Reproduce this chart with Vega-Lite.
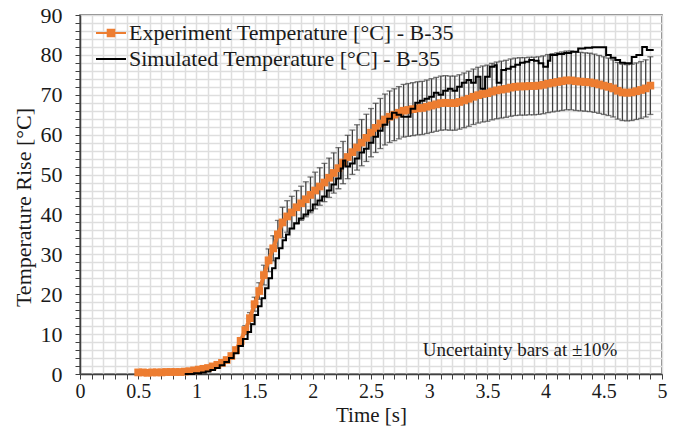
{
  "$schema": "https://vega.github.io/schema/vega-lite/v6.json",
  "width": 582,
  "height": 359,
  "autosize": {"type": "none"},
  "padding": {"left": 80, "top": 15, "right": 16, "bottom": 62},
  "background": "white",
  "config": {
    "view": {"stroke": "#595959", "strokeWidth": 1.5},
    "font": "Liberation Serif"
  },
  "datasets": {
    "exp": [
      {"t":0.50,"T":0.4,"lo":0.36,"hi":0.44},{"t":0.54,"T":0.4,"lo":0.36,"hi":0.44},{"t":0.58,"T":0.3,"lo":0.27,"hi":0.33},{"t":0.62,"T":0.4,"lo":0.36,"hi":0.44},
      {"t":0.66,"T":0.4,"lo":0.36,"hi":0.44},{"t":0.70,"T":0.4,"lo":0.36,"hi":0.44},{"t":0.74,"T":0.5,"lo":0.45,"hi":0.55},{"t":0.78,"T":0.5,"lo":0.45,"hi":0.55},
      {"t":0.82,"T":0.5,"lo":0.45,"hi":0.55},{"t":0.86,"T":0.5,"lo":0.45,"hi":0.55},{"t":0.90,"T":0.6,"lo":0.54,"hi":0.66},{"t":0.94,"T":0.7,"lo":0.63,"hi":0.77},
      {"t":0.98,"T":0.9,"lo":0.81,"hi":0.99},{"t":1.02,"T":1.1,"lo":0.99,"hi":1.21},{"t":1.06,"T":1.3,"lo":1.17,"hi":1.43},{"t":1.10,"T":1.5,"lo":1.35,"hi":1.65},
      {"t":1.14,"T":1.9,"lo":1.71,"hi":2.09},{"t":1.18,"T":2.3,"lo":2.07,"hi":2.53},{"t":1.22,"T":2.8,"lo":2.52,"hi":3.08},{"t":1.26,"T":3.5,"lo":3.15,"hi":3.85},
      {"t":1.30,"T":4.5,"lo":4.05,"hi":4.95},{"t":1.34,"T":6.0,"lo":5.4,"hi":6.6},{"t":1.38,"T":8.3,"lo":7.47,"hi":9.13},{"t":1.42,"T":11.0,"lo":9.9,"hi":12.1},
      {"t":1.46,"T":14.0,"lo":12.6,"hi":15.4},{"t":1.50,"T":17.5,"lo":15.75,"hi":19.25},{"t":1.54,"T":20.8,"lo":18.72,"hi":22.88},{"t":1.58,"T":24.8,"lo":22.32,"hi":27.28},
      {"t":1.62,"T":28.5,"lo":25.65,"hi":31.35},{"t":1.66,"T":31.5,"lo":28.35,"hi":34.65},{"t":1.70,"T":35.0,"lo":31.5,"hi":38.5},{"t":1.74,"T":38.0,"lo":34.2,"hi":41.8},
      {"t":1.78,"T":39.5,"lo":35.55,"hi":43.45},{"t":1.82,"T":40.5,"lo":36.45,"hi":44.55},{"t":1.86,"T":41.8,"lo":37.62,"hi":45.98},{"t":1.90,"T":42.8,"lo":38.52,"hi":47.08},
      {"t":1.94,"T":43.8,"lo":39.42,"hi":48.18},{"t":1.98,"T":44.9,"lo":40.41,"hi":49.39},{"t":2.02,"T":46.0,"lo":41.4,"hi":50.6},{"t":2.06,"T":47.0,"lo":42.3,"hi":51.7},
      {"t":2.10,"T":48.0,"lo":43.2,"hi":52.8},{"t":2.14,"T":49.2,"lo":44.28,"hi":54.12},{"t":2.18,"T":50.4,"lo":45.36,"hi":55.44},{"t":2.22,"T":51.6,"lo":46.44,"hi":56.76},
      {"t":2.26,"T":53.0,"lo":47.7,"hi":58.3},{"t":2.30,"T":54.4,"lo":48.96,"hi":59.84},{"t":2.34,"T":55.6,"lo":50.04,"hi":61.16},{"t":2.38,"T":56.8,"lo":51.12,"hi":62.48},
      {"t":2.42,"T":58.0,"lo":52.2,"hi":63.8},{"t":2.46,"T":59.2,"lo":53.28,"hi":65.12},{"t":2.50,"T":60.5,"lo":54.45,"hi":66.55},{"t":2.54,"T":61.7,"lo":55.53,"hi":67.87},
      {"t":2.58,"T":62.8,"lo":56.52,"hi":69.08},{"t":2.62,"T":63.8,"lo":57.42,"hi":70.18},{"t":2.66,"T":64.5,"lo":58.05,"hi":70.95},{"t":2.70,"T":65.0,"lo":58.5,"hi":71.5},
      {"t":2.74,"T":65.5,"lo":58.95,"hi":72.05},{"t":2.78,"T":66.0,"lo":59.4,"hi":72.6},{"t":2.82,"T":66.2,"lo":59.58,"hi":72.82},{"t":2.86,"T":66.4,"lo":59.76,"hi":73.04},
      {"t":2.90,"T":66.6,"lo":59.94,"hi":73.26},{"t":2.94,"T":66.7,"lo":60.03,"hi":73.37},{"t":2.98,"T":67.0,"lo":60.3,"hi":73.7},{"t":3.02,"T":67.3,"lo":60.57,"hi":74.03},
      {"t":3.06,"T":67.6,"lo":60.84,"hi":74.36},{"t":3.10,"T":67.9,"lo":61.11,"hi":74.69},{"t":3.14,"T":68.0,"lo":61.2,"hi":74.8},{"t":3.18,"T":67.9,"lo":61.11,"hi":74.69},
      {"t":3.22,"T":67.9,"lo":61.11,"hi":74.69},{"t":3.26,"T":68.2,"lo":61.38,"hi":75.02},{"t":3.30,"T":68.6,"lo":61.74,"hi":75.46},{"t":3.34,"T":69.0,"lo":62.1,"hi":75.9},
      {"t":3.38,"T":69.5,"lo":62.55,"hi":76.45},{"t":3.42,"T":69.9,"lo":62.91,"hi":76.89},{"t":3.46,"T":70.2,"lo":63.18,"hi":77.22},{"t":3.50,"T":70.4,"lo":63.36,"hi":77.44},
      {"t":3.54,"T":70.8,"lo":63.72,"hi":77.88},{"t":3.58,"T":71.1,"lo":63.99,"hi":78.21},{"t":3.62,"T":71.3,"lo":64.17,"hi":78.43},{"t":3.66,"T":71.5,"lo":64.35,"hi":78.65},
      {"t":3.70,"T":71.8,"lo":64.62,"hi":78.98},{"t":3.74,"T":72.0,"lo":64.8,"hi":79.2},{"t":3.78,"T":72.1,"lo":64.89,"hi":79.31},{"t":3.82,"T":72.1,"lo":64.89,"hi":79.31},
      {"t":3.86,"T":72.2,"lo":64.98,"hi":79.42},{"t":3.90,"T":72.2,"lo":64.98,"hi":79.42},{"t":3.94,"T":72.3,"lo":65.07,"hi":79.53},{"t":3.98,"T":72.5,"lo":65.25,"hi":79.75},
      {"t":4.02,"T":72.8,"lo":65.52,"hi":80.08},{"t":4.06,"T":73.0,"lo":65.7,"hi":80.3},{"t":4.10,"T":73.2,"lo":65.88,"hi":80.52},{"t":4.14,"T":73.4,"lo":66.06,"hi":80.74},
      {"t":4.18,"T":73.6,"lo":66.24,"hi":80.96},{"t":4.22,"T":73.6,"lo":66.24,"hi":80.96},{"t":4.26,"T":73.4,"lo":66.06,"hi":80.74},{"t":4.30,"T":73.3,"lo":65.97,"hi":80.63},
      {"t":4.34,"T":73.2,"lo":65.88,"hi":80.52},{"t":4.38,"T":73.1,"lo":65.79,"hi":80.41},{"t":4.42,"T":72.9,"lo":65.61,"hi":80.19},{"t":4.46,"T":72.6,"lo":65.34,"hi":79.86},
      {"t":4.50,"T":72.3,"lo":65.07,"hi":79.53},{"t":4.54,"T":72.0,"lo":64.8,"hi":79.2},{"t":4.58,"T":71.6,"lo":64.44,"hi":78.76},{"t":4.62,"T":71.0,"lo":63.9,"hi":78.1},
      {"t":4.66,"T":70.6,"lo":63.54,"hi":77.66},{"t":4.70,"T":70.5,"lo":63.45,"hi":77.55},{"t":4.74,"T":70.6,"lo":63.54,"hi":77.66},{"t":4.78,"T":70.9,"lo":63.81,"hi":77.99},
      {"t":4.82,"T":71.2,"lo":64.08,"hi":78.32},{"t":4.86,"T":71.6,"lo":64.44,"hi":78.76},{"t":4.90,"T":72.3,"lo":65.07,"hi":79.53}
    ],
    "sim": [
      {"t":0.90,"T":0.0},{"t":0.98,"T":0.2},{"t":1.04,"T":0.4},{"t":1.08,"T":0.6},{"t":1.12,"T":1.0},{"t":1.16,"T":1.5},
      {"t":1.20,"T":2.2},{"t":1.24,"T":3.0},{"t":1.28,"T":4.0},{"t":1.32,"T":5.2},{"t":1.36,"T":7.0},{"t":1.40,"T":8.8},
      {"t":1.44,"T":10.5},{"t":1.47,"T":12.5},{"t":1.50,"T":14.8},{"t":1.53,"T":17.0},{"t":1.56,"T":19.0},{"t":1.59,"T":21.5},
      {"t":1.62,"T":24.0},{"t":1.65,"T":26.5},{"t":1.68,"T":29.0},{"t":1.71,"T":31.5},{"t":1.74,"T":33.5},{"t":1.77,"T":35.0},
      {"t":1.80,"T":36.5},{"t":1.84,"T":37.8},{"t":1.88,"T":39.0},{"t":1.92,"T":40.0},{"t":1.96,"T":41.0},{"t":2.00,"T":42.5},
      {"t":2.04,"T":43.5},{"t":2.08,"T":44.5},{"t":2.12,"T":46.0},{"t":2.16,"T":47.5},{"t":2.20,"T":49.0},{"t":2.24,"T":51.5},
      {"t":2.26,"T":53.5},{"t":2.28,"T":52.0},{"t":2.32,"T":52.8},{"t":2.36,"T":54.0},{"t":2.40,"T":55.5},{"t":2.44,"T":56.5},
      {"t":2.48,"T":58.0},{"t":2.52,"T":59.5},{"t":2.56,"T":61.0},{"t":2.60,"T":62.5},{"t":2.64,"T":64.0},{"t":2.68,"T":65.5},
      {"t":2.72,"T":65.0},{"t":2.76,"T":64.5},{"t":2.80,"T":64.5},{"t":2.84,"T":66.5},{"t":2.88,"T":68.0},{"t":2.92,"T":68.5},
      {"t":2.96,"T":69.0},{"t":3.00,"T":69.5},{"t":3.04,"T":70.5},{"t":3.08,"T":70.0},{"t":3.12,"T":71.0},{"t":3.16,"T":71.5},
      {"t":3.20,"T":71.0},{"t":3.24,"T":72.0},{"t":3.28,"T":73.0},{"t":3.32,"T":73.7},{"t":3.36,"T":73.0},{"t":3.40,"T":74.5},
      {"t":3.44,"T":71.5},{"t":3.48,"T":74.5},{"t":3.52,"T":77.0},{"t":3.56,"T":77.4},{"t":3.58,"T":73.0},{"t":3.62,"T":76.2},
      {"t":3.66,"T":76.5},{"t":3.70,"T":77.0},{"t":3.74,"T":77.5},{"t":3.78,"T":78.0},{"t":3.82,"T":78.3},{"t":3.86,"T":78.7},
      {"t":3.90,"T":78.5},{"t":3.94,"T":77.9},{"t":3.98,"T":77.0},{"t":4.02,"T":78.5},{"t":4.04,"T":80.0},{"t":4.10,"T":80.2},
      {"t":4.16,"T":80.5},{"t":4.22,"T":80.8},{"t":4.28,"T":81.6},{"t":4.34,"T":81.8},{"t":4.40,"T":81.9},{"t":4.46,"T":81.9},
      {"t":4.52,"T":80.0},{"t":4.56,"T":79.3},{"t":4.60,"T":78.7},{"t":4.64,"T":78.0},{"t":4.68,"T":77.9},{"t":4.74,"T":79.5},
      {"t":4.78,"T":80.0},{"t":4.83,"T":82.0},{"t":4.87,"T":81.2},{"t":4.92,"T":81.0}
    ],
    "note": [{"t":3.78,"T":6,"label":"Uncertainty bars at ±10%"}]
  },
  "encoding": {
    "x": {
      "field": "t", "type": "quantitative",
      "scale": {"domain": [0, 5], "nice": false, "zero": false},
      "axis": {
        "title": "Time [s]",
        "values": [0,0.1,0.2,0.3,0.4,0.5,0.6,0.7,0.8,0.9,1,1.1,1.2,1.3,1.4,1.5,1.6,1.7,1.8,1.9,2,2.1,2.2,2.3,2.4,2.5,2.6,2.7,2.8,2.9,3,3.1,3.2,3.3,3.4,3.5,3.6,3.7,3.8,3.9,4,4.1,4.2,4.3,4.4,4.5,4.6,4.7,4.8,4.9,5],
        "labelExpr": "abs(datum.value*2 - round(datum.value*2)) < 0.001 ? format(datum.value, '~g') : ''",
        "labelOverlap": false, "labelFlush": false,
        "grid": true, "gridColor": "#dedede", "gridWidth": 1.5,
        "domainColor": "#404040", "domainWidth": 1.5,
        "tickColor": "#404040", "tickSize": 5, "tickWidth": 1,
        "labelFont": "Liberation Serif", "labelFontSize": 20, "labelColor": "#1a1a1a", "labelPadding": 2,
        "titleFont": "Liberation Serif", "titleFontSize": 21, "titleFontWeight": "normal", "titleColor": "#1a1a1a", "titlePadding": 3
      }
    },
    "y": {
      "field": "T", "type": "quantitative",
      "scale": {"domain": [0, 90], "nice": false},
      "axis": {
        "title": "Temperature Rise [°C]",
        "values": [0,2,4,6,8,10,12,14,16,18,20,22,24,26,28,30,32,34,36,38,40,42,44,46,48,50,52,54,56,58,60,62,64,66,68,70,72,74,76,78,80,82,84,86,88,90],
        "labelExpr": "datum.value % 10 == 0 ? format(datum.value, 'd') : ''",
        "labelOverlap": false, "labelFlush": false,
        "grid": true, "gridColor": "#dedede", "gridWidth": 1.5,
        "domainColor": "#404040", "domainWidth": 1.5,
        "tickColor": "#404040", "tickSize": 5, "tickWidth": 1,
        "labelFont": "Liberation Serif", "labelFontSize": 22, "labelColor": "#1a1a1a", "labelPadding": 13,
        "titleFont": "Liberation Serif", "titleFontSize": 22, "titleFontWeight": "normal", "titleColor": "#1a1a1a", "titlePadding": 5,
        "titleY": 192
      }
    }
  },
  "layer": [
    {
      "data": {"name": "exp"},
      "mark": {"type": "errorbar", "ticks": {"size": 6, "color": "#404040"}, "color": "#404040", "thickness": 1.3},
      "encoding": {
        "y": {"field": "lo", "type": "quantitative"},
        "y2": {"field": "hi"}
      }
    },
    {
      "data": {"name": "exp"},
      "mark": {"type": "line", "strokeWidth": 4},
      "encoding": {
        "color": {
          "datum": "Experiment Temperature [°C] - B-35",
          "scale": {"range": ["#ED7D31"]},
          "legend": {
            "title": null, "orient": "none", "legendX": 15, "legendY": 2, "padding": 0,
            "symbolType": "M-1,0H1M-0.22,-0.22H0.22V0.22H-0.22Z",
            "symbolSize": 900, "symbolStrokeWidth": 2,
            "labelFont": "Liberation Serif", "labelFontSize": 22, "labelColor": "#1a1a1a", "labelLimit": 500, "labelOffset": 2,
            "encode": {"symbols": {"update": {"fill": {"value": "#ED7D31"}, "fillOpacity": {"value": 1}}}}
          }
        }
      }
    },
    {
      "data": {"name": "exp"},
      "mark": {"type": "point", "shape": "square", "filled": true, "size": 60, "opacity": 1, "color": "#ED7D31"},
      "encoding": {}
    },
    {
      "data": {"name": "sim"},
      "mark": {"type": "line", "interpolate": "step-after", "strokeWidth": 2},
      "encoding": {
        "stroke": {
          "datum": "Simulated Temperature [°C] - B-35",
          "scale": {"range": ["#000000"]},
          "legend": {
            "title": null, "orient": "none", "legendX": 15, "legendY": 28, "padding": 0,
            "symbolType": "stroke", "symbolSize": 900, "symbolStrokeWidth": 2,
            "labelFont": "Liberation Serif", "labelFontSize": 22, "labelColor": "#1a1a1a", "labelLimit": 500, "labelOffset": 2
          }
        }
      }
    },
    {
      "data": {"name": "note"},
      "mark": {"type": "text", "font": "Liberation Serif", "fontSize": 19, "color": "#1a1a1a"},
      "encoding": {"text": {"field": "label"}}
    }
  ]
}
